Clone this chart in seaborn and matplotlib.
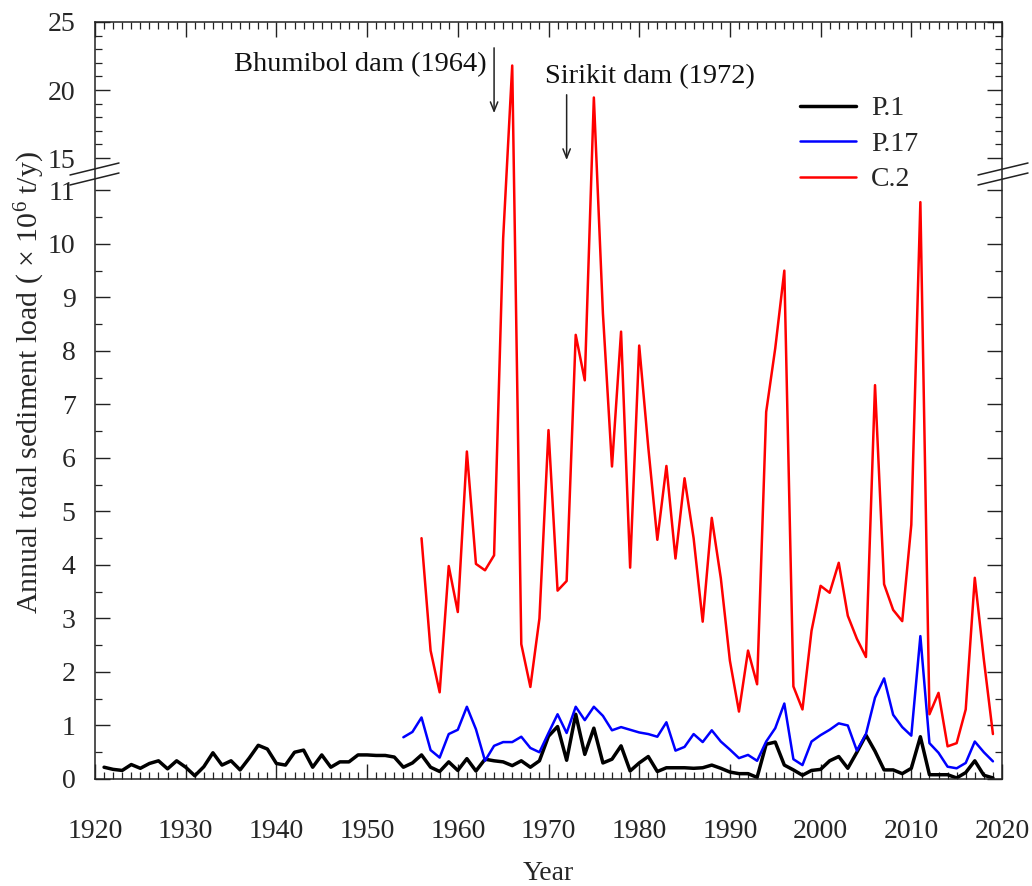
import numpy as np
import matplotlib
matplotlib.use("Agg")
import matplotlib.pyplot as plt
from matplotlib.ticker import FixedLocator, MultipleLocator, FixedFormatter
from matplotlib.lines import Line2D
import seaborn as sns

# ---------------- data ----------------
years_p1 = list(range(1921, 2020))
p1 = [0.22, 0.18, 0.16, 0.27, 0.20, 0.29, 0.34, 0.19, 0.34, 0.22,
      0.06, 0.23, 0.49, 0.26, 0.34, 0.17, 0.39, 0.63, 0.56, 0.29,
      0.26, 0.50, 0.54, 0.22, 0.45, 0.22, 0.32, 0.32, 0.45, 0.45,
      0.44, 0.44, 0.41, 0.22, 0.30, 0.45, 0.22, 0.14, 0.32, 0.16,
      0.38, 0.15, 0.37, 0.34, 0.32, 0.25, 0.34, 0.22, 0.34, 0.80,
      0.98, 0.35, 1.21, 0.46, 0.95, 0.30, 0.37, 0.62, 0.15, 0.30,
      0.42, 0.14, 0.21, 0.21, 0.21, 0.20, 0.21, 0.26, 0.20, 0.13,
      0.10, 0.10, 0.03, 0.65, 0.69, 0.26, 0.17, 0.07, 0.16, 0.18,
      0.34, 0.42, 0.20, 0.50, 0.82, 0.52, 0.17, 0.17, 0.10, 0.20,
      0.79, 0.08, 0.08, 0.08, 0.02, 0.12, 0.34, 0.07, 0.02]

years_p17 = list(range(1954, 2020))
p17 = [0.78, 0.88, 1.15, 0.54, 0.40, 0.84, 0.92, 1.35, 0.93, 0.34,
       0.62, 0.69, 0.69, 0.79, 0.58, 0.50, 0.86, 1.21, 0.86, 1.35,
       1.10, 1.35, 1.18, 0.91, 0.97, 0.92, 0.87, 0.84, 0.79, 1.06,
       0.53, 0.60, 0.84, 0.69, 0.91, 0.70, 0.55, 0.39, 0.45, 0.34,
       0.70, 0.95, 1.41, 0.37, 0.26, 0.70, 0.82, 0.92, 1.04, 1.00,
       0.53, 0.84, 1.52, 1.88, 1.20, 0.97, 0.81, 2.67, 0.67, 0.49,
       0.23, 0.20, 0.30, 0.70, 0.50, 0.33]

years_c2 = list(range(1956, 2020))
c2 = [4.50, 2.40, 1.62, 3.98, 3.12, 6.12, 4.02, 3.90, 4.18, 10.1,
      21.8, 2.52, 1.72, 3.00, 6.52, 3.52, 3.70, 8.30, 7.45, 19.45,
      8.70, 5.84, 8.36, 3.95, 8.10, 6.20, 4.47, 5.85, 4.12, 5.62,
      4.50, 2.94, 4.88, 3.75, 2.21, 1.26, 2.40, 1.77, 6.86, 8.05,
      9.50, 1.73, 1.30, 2.77, 3.61, 3.48, 4.04, 3.05, 2.62, 2.28,
      7.36, 3.64, 3.16, 2.95, 4.75, 10.78, 1.21, 1.61, 0.61, 0.67,
      1.30, 3.76, 2.23, 0.84]

series_names = ["P.1", "P.17", "C.2"]
series_colors = ["black", "#0000ff", "#ff0000"]
series_widths = [2.5, 1.8, 1.8]

x_ticks = [1920, 1930, 1940, 1950, 1960, 1970, 1980, 1990, 2000, 2010, 2020]
y_major = [0, 1, 2, 3, 4, 5, 6, 7, 8, 9, 10, 11, 15, 20, 25]
y_minor = [v / 2 for v in range(1, 22, 2)] + [16, 17, 18, 19, 21, 22, 23, 24]

# ---------------- broken y scale ----------------
LOW_TOP, HIGH_BOT = 11.35, 14.0
R = 13.6 / 53.5


def fwd(v):
    v = np.asarray(v, dtype=float)
    return np.where(v <= LOW_TOP, v,
                    np.where(v >= HIGH_BOT, LOW_TOP + (v - HIGH_BOT) * R,
                             LOW_TOP + (v - LOW_TOP) * 1e-6))


def inv(u):
    u = np.asarray(u, dtype=float)
    return np.where(u <= LOW_TOP, u, HIGH_BOT + (u - LOW_TOP) / R)


# ---------------- style ----------------
sns.set_theme(style="ticks")
plt.rcParams["font.family"] = ["Liberation Serif", "DejaVu Serif"]
plt.rcParams["mathtext.fontset"] = "custom"
plt.rcParams["mathtext.rm"] = "Liberation Serif"
plt.rcParams["mathtext.it"] = "Liberation Serif:italic"
plt.rcParams["mathtext.default"] = "regular"

W, H = 1032, 886
fig = plt.figure(figsize=(W / 100, H / 100), dpi=100)


def fx(px):
    return px / W


def fy(py):
    return 1 - py / H


left, right, top, bottom = 95, 1002, 22, 779
ax = fig.add_axes([fx(left), fy(bottom), fx(right) - fx(left), fy(top) - fy(bottom)])

for xs, ys, c, lw in zip([years_p1, years_p17, years_c2], [p1, p17, c2],
                         series_colors, series_widths):
    sns.lineplot(x=xs, y=ys, ax=ax, color=c, linewidth=lw, estimator=None)

ax.set_yscale("function", functions=(fwd, inv))
ax.set_xlim(1920, 2020)
ax.set_ylim(0, 25)

spine_c = "#222222"
for s in ax.spines.values():
    s.set_color(spine_c)
    s.set_linewidth(1.1)

ax.xaxis.set_major_locator(FixedLocator(x_ticks))
ax.xaxis.set_minor_locator(MultipleLocator(1))
ax.yaxis.set_major_locator(FixedLocator(y_major))
ax.yaxis.set_major_formatter(FixedFormatter([str(v) for v in y_major]))
ax.yaxis.set_minor_locator(FixedLocator(y_minor))
ax.tick_params(which="major", direction="in", length=10.5, width=1.0,
               color=spine_c, labelsize=20, top=True, right=True)
ax.tick_params(which="minor", direction="in", length=5, width=0.9,
               color=spine_c, top=True, right=True)
ax.tick_params(axis="x", which="major", pad=29)
ax.tick_params(axis="y", which="major", pad=14)

# axis labels
ax.set_xlabel("Year", fontsize=20)
ax.xaxis.set_label_coords(fx(548), fy(874), transform=fig.transFigure)
ax.xaxis.label.set_va("center")
ax.set_ylabel("Annual total sediment load ( \u00d7 10$^{6}$ t/y)", fontsize=21.5)
ax.yaxis.set_label_coords(fx(30), fy(383), transform=fig.transFigure)
ax.yaxis.label.set_va("center")

# annotations
arrow_kw = dict(arrowstyle="->,head_length=0.55,head_width=0.22", lw=1.1, color="#222222",
                shrinkA=0, shrinkB=0)
ax.annotate("", xy=(1964, 18.3), xytext=(1964, 23.1), arrowprops=arrow_kw)
ax.annotate("", xy=(1972, 14.85), xytext=(1972, 19.65), arrowprops=arrow_kw)
ax.text(1963.2, 21.85, "Bhumibol dam (1964)", ha="right", va="center", fontsize=20.5,
        color="#111111")
ax.text(1969.6, 20.95, "Sirikit dam (1972)", ha="left", va="center", fontsize=20.5,
        color="#111111")

# legend
handles = [Line2D([0], [0], color=c, lw=lw) for c, lw in zip(series_colors, series_widths)]
ax.legend(handles, series_names, loc="upper left", bbox_to_anchor=(fx(800), fy(96)),
          bbox_transform=fig.transFigure, frameon=False, borderpad=0, borderaxespad=0,
          handlelength=2.0, handletextpad=0.55, labelspacing=0.36, fontsize=20)

# axis break marks
for (x0, y0, x1, y1) in [(70, 175, 119, 163), (70, 185, 119, 173),
                         (978, 175, 1028, 163), (978, 185, 1028, 173)]:
    fig.add_artist(Line2D([fx(x0), fx(x1)], [fy(y0), fy(y1)], transform=fig.transFigure,
                          color="#222222", lw=1.1))

fig.savefig("out.png", dpi=100)
